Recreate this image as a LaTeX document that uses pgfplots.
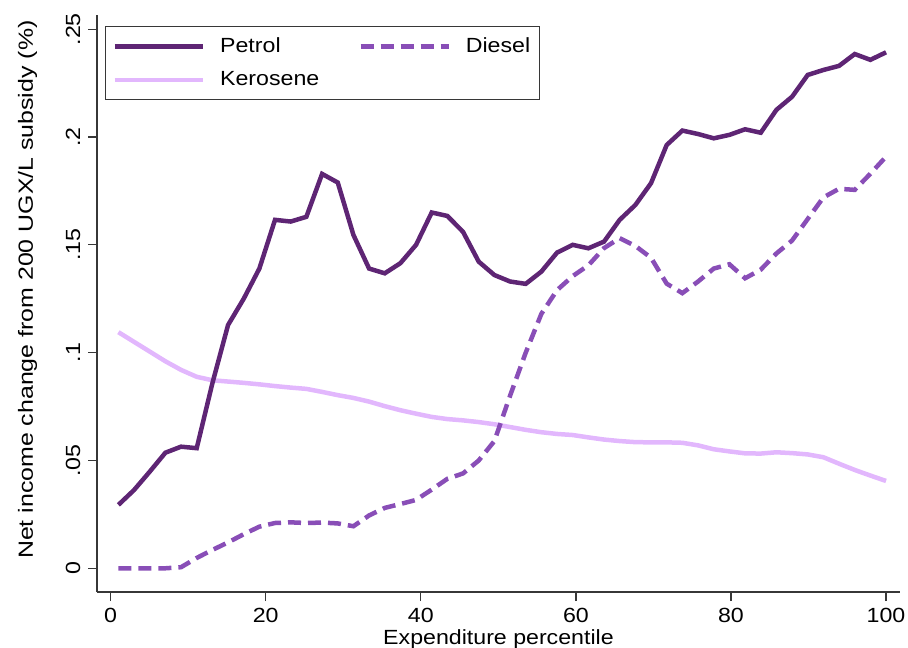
\documentclass[border=0pt]{standalone}
\usepackage{pgfplots}
\pgfplotsset{compat=1.18}
\usepackage{pgfplotstable}
\usepackage{fontspec}
\setmainfont[FakeStretch=1.13]{Liberation Sans}

\definecolor{petrol}{RGB}{94,37,116}
\definecolor{diesel}{RGB}{137,78,183}
\definecolor{kerosene}{RGB}{226,183,253}
\definecolor{axisgray}{RGB}{55,55,55}

% Net income change by expenditure percentile, per fuel (50 groups)
\pgfplotstableread{
x      petrol diesel kerosene
1.00   0.0294 0.0000 0.1095
3.02   0.0363 0.0000 0.1050
5.04   0.0448 0.0000 0.1005
7.06   0.0536 0.0000 0.0960
9.08   0.0564 0.0005 0.0920
11.10  0.0557 0.0048 0.0888
13.12  0.0858 0.0085 0.0872
15.14  0.1128 0.0120 0.0866
17.16  0.1250 0.0158 0.0860
19.18  0.1390 0.0193 0.0853
21.20  0.1616 0.0210 0.0845
23.22  0.1608 0.0213 0.0838
25.24  0.1630 0.0210 0.0832
27.27  0.1829 0.0212 0.0818
29.29  0.1789 0.0208 0.0803
31.31  0.1546 0.0195 0.0790
33.33  0.1390 0.0245 0.0773
35.35  0.1368 0.0280 0.0752
37.37  0.1415 0.0298 0.0733
39.39  0.1500 0.0317 0.0717
41.41  0.1650 0.0365 0.0702
43.43  0.1634 0.0415 0.0692
45.45  0.1560 0.0440 0.0686
47.47  0.1422 0.0500 0.0678
49.49  0.1360 0.0590 0.0668
51.51  0.1330 0.0800 0.0655
53.53  0.1319 0.1000 0.0642
55.55  0.1376 0.1180 0.0631
57.57  0.1464 0.1290 0.0623
59.59  0.1500 0.1355 0.0618
61.61  0.1484 0.1405 0.0607
63.63  0.1515 0.1485 0.0597
65.65  0.1616 0.1531 0.0590
67.67  0.1685 0.1495 0.0585
69.69  0.1786 0.1440 0.0584
71.71  0.1963 0.1320 0.0584
73.73  0.2030 0.1276 0.0582
75.76  0.2014 0.1330 0.0570
77.78  0.1994 0.1390 0.0552
79.80  0.2010 0.1410 0.0542
81.82  0.2036 0.1345 0.0533
83.84  0.2020 0.1385 0.0532
85.86  0.2126 0.1460 0.0538
87.88  0.2187 0.1520 0.0534
89.90  0.2288 0.1620 0.0528
91.92  0.2311 0.1720 0.0515
93.94  0.2330 0.1760 0.0485
95.96  0.2385 0.1755 0.0456
97.98  0.2358 0.1830 0.0430
100.00 0.2393 0.1909 0.0405
}\fueltable

\begin{document}
\fontsize{20.5}{24}\selectfont
\begin{tikzpicture}
\begin{axis}[
  scale only axis,
  width=803pt, height=577pt,
  xmin=-1.76, xmax=101.8,
  ymin=-0.011, ymax=0.2566,
  axis lines=left,
  axis line style={-, axisgray, line width=1.3pt},
  tick style={axisgray, line width=1.3pt},
  tick align=outside,
  major tick length=9pt,
  /pgf/number format/assume math mode=true,
  xtick={0,20,40,60,80,100},
  xticklabels={0,20,40,60,80,100},
  ytick={0,0.05,0.1,0.15,0.2,0.25},
  yticklabels={0,.05,.1,.15,.2,.25},
  yticklabel style={rotate=90, anchor=base, yshift=8pt},
  xlabel={Expenditure percentile},
  ylabel={Net income change from 200 UGX/L subsidy (\%)},
  xlabel style={at={(axis description cs:0.5,0)}, anchor=base, yshift=-52pt},
  ylabel style={at={(axis description cs:0,0.524)}, anchor=base, yshift=64pt, xscale=1.075},
  legend columns=2,
  legend cell align=left,
  legend image code/.code={\draw[#1] (0pt,0pt) -- (88pt,0pt);},
  legend style={
    at={(axis description cs:0.00996,0.9809)}, anchor=north west,
    draw=axisgray, line width=1.3pt,
    inner xsep=7pt, inner ysep=9pt,
    row sep=12pt,
    /tikz/every odd column/.append style={column sep=13pt},
    /tikz/every even column/.append style={column sep=37pt},
  },
]
\addplot[kerosene, line width=4.5pt, forget plot] table[x=x, y=kerosene] {\fueltable};
\addplot[petrol, line width=4.5pt] table[x=x, y=petrol] {\fueltable};
\addplot[diesel, line width=4.5pt, dash pattern=on 13pt off 7pt] table[x=x, y=diesel] {\fueltable};
\addlegendimage{kerosene, line width=4.5pt}
\legend{Petrol, Diesel, Kerosene}
\end{axis}
\pgfresetboundingbox
\path (-97pt,-56pt) rectangle (811pt,592pt);
\end{tikzpicture}
\end{document}
